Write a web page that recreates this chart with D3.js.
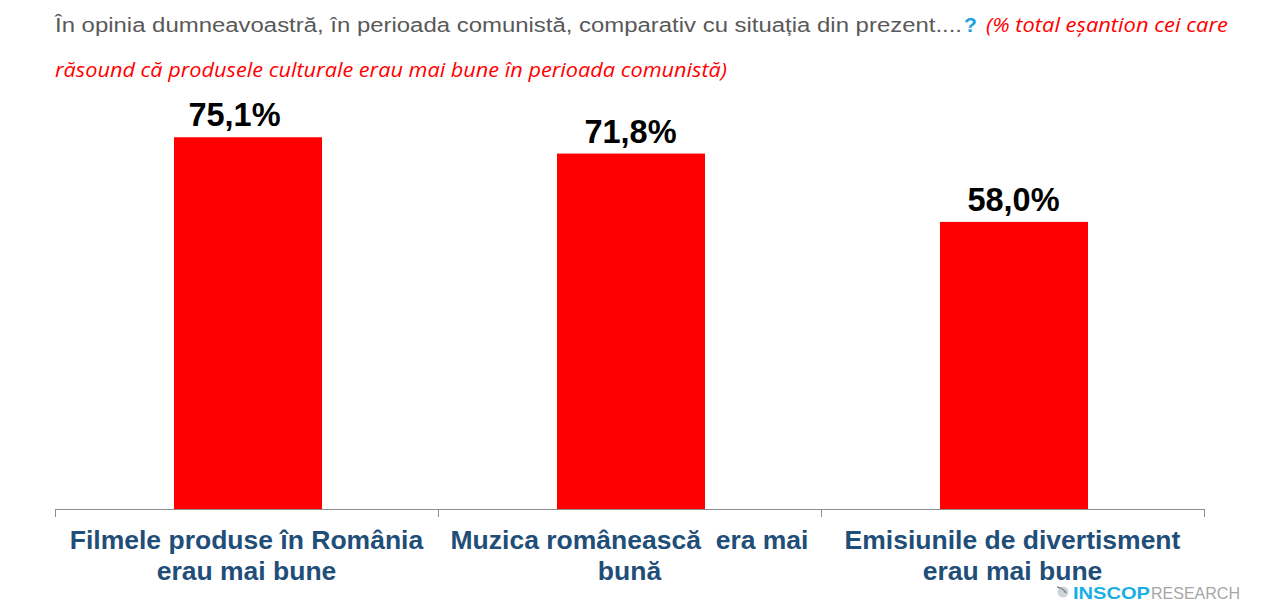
<!DOCTYPE html>
<html><head><meta charset="utf-8">
<script src="https://cdn.jsdelivr.net/npm/d3@7"></script>
<style>body{margin:0;background:#fff;overflow:hidden}svg{display:block}</style>
</head><body><svg id="c" width="1263" height="607"></svg>
<script>
const categories = [
  ["Filmele produse în România", "erau mai bune"],
  ["Muzica românească  era mai", "bună"],
  ["Emisiunile de divertisment", "erau mai bune"]
];
const values = [75.1, 71.8, 58.0];
const valueLabels = ["75,1%", "71,8%", "58,0%"];

const svg = d3.select("#c");
const x = d3.scaleBand().domain(d3.range(categories.length)).range([55, 1204]).paddingInner(0).paddingOuter(0);
const y = d3.scaleLinear().domain([0, 100]).range([509, 14]);
const bw = 148;
const sans = "Arial, 'Liberation Sans', sans-serif";

// title
svg.append("text").attr("x", 55).attr("y", 32).attr("fill", "#595959")
  .style("font-family", sans).style("font-size", "20px")
  .attr("textLength", 907).attr("lengthAdjust", "spacingAndGlyphs")
  .text("În opinia dumneavoastră, în perioada comunistă, comparativ cu situația din prezent....");
svg.append("text").attr("x", 964).attr("y", 32).attr("fill", "#1ea0e0")
  .style("font-family", sans).style("font-size", "21px").style("font-weight", "bold").text("?");
svg.append("text").attr("x", 986).attr("y", 32).attr("fill", "#ff0000")
  .style("font-style", "italic").style("font-family", "'Open Sans', sans-serif").style("font-size", "20px")
  .attr("textLength", 242).attr("lengthAdjust", "spacingAndGlyphs")
  .text("(% total eșantion cei care");
svg.append("text").attr("x", 55).attr("y", 77).attr("fill", "#ff0000")
  .style("font-style", "italic").style("font-family", "'Open Sans', sans-serif").style("font-size", "20px")
  .attr("textLength", 672).attr("lengthAdjust", "spacingAndGlyphs")
  .text("răsound că produsele culturale erau mai bune în perioada comunistă)");

// bars
svg.selectAll("rect.bar").data(values).join("rect").attr("class", "bar")
  .attr("x", (d, i) => Math.round(x(i) + x.bandwidth() / 2 - bw / 2 + 1.5))
  .attr("width", bw)
  .attr("y", d => y(d))
  .attr("height", d => y(0) - y(d))
  .attr("fill", "#ff0000");

// value labels
svg.selectAll("text.val").data(values).join("text").attr("class", "val")
  .attr("x", (d, i) => x(i) + x.bandwidth() / 2 + 1 - (i === 0 ? 13 : 0))
  .attr("y", d => y(d) - 11)
  .attr("text-anchor", "middle")
  .style("font-family", sans)
  .style("font-weight", "bold").style("font-size", "32.5px").attr("fill", "#000")
  .text((d, i) => valueLabels[i]);

// axis
const axis = svg.append("g");
axis.append("line").attr("x1", 55).attr("x2", 1204).attr("y1", y(0) + 0.5).attr("y2", y(0) + 0.5).attr("stroke", "#8c8c8c").attr("stroke-width", 1);
const tickXs = d3.range(categories.length + 1).map(i => i < categories.length ? x(i) : x(categories.length - 1) + x.bandwidth());
axis.selectAll("line.tick").data(tickXs).join("line").attr("class", "tick")
  .attr("x1", d => Math.round(d) + 0.5).attr("x2", d => Math.round(d) + 0.5)
  .attr("y1", y(0)).attr("y2", y(0) + 8).attr("stroke", "#8c8c8c");

// category labels
const cl = svg.selectAll("text.cat").data(categories).join("text").attr("class", "cat")
  .attr("text-anchor", "middle")
  .style("font-family", sans)
  .style("font-weight", "bold").style("font-size", "26.5px").attr("fill", "#1f4e79");
cl.each(function(d, i) {
  const s = d3.select(this);
  d.forEach((line, j) => s.append("tspan").attr("x", x(i) + x.bandwidth() / 2).attr("y", 549 + j * 31).style("white-space", "pre").text(line));
});

// logo
const lg = svg.append("g");
lg.append("circle").attr("cx", 1063).attr("cy", 592).attr("r", 5.5).attr("fill", "#cfd4d8");
lg.append("path").attr("d", "M1057,587 Q1063,588 1066,593").attr("stroke", "#7f8a94").attr("fill", "none").attr("stroke-width", 1.6);
lg.append("text").attr("x", 1073).attr("y", 599).attr("fill", "#1aaee6")
  .style("font-family", sans).style("font-size", "17px").style("font-weight", "bold")
  .attr("textLength", 77).attr("lengthAdjust", "spacingAndGlyphs").text("INSCOP");
lg.append("text").attr("x", 1151).attr("y", 599).attr("fill", "#a6a6a6")
  .style("font-family", sans).style("font-size", "16.5px")
  .attr("textLength", 89).attr("lengthAdjust", "spacingAndGlyphs").text("RESEARCH");
</script></body></html>
